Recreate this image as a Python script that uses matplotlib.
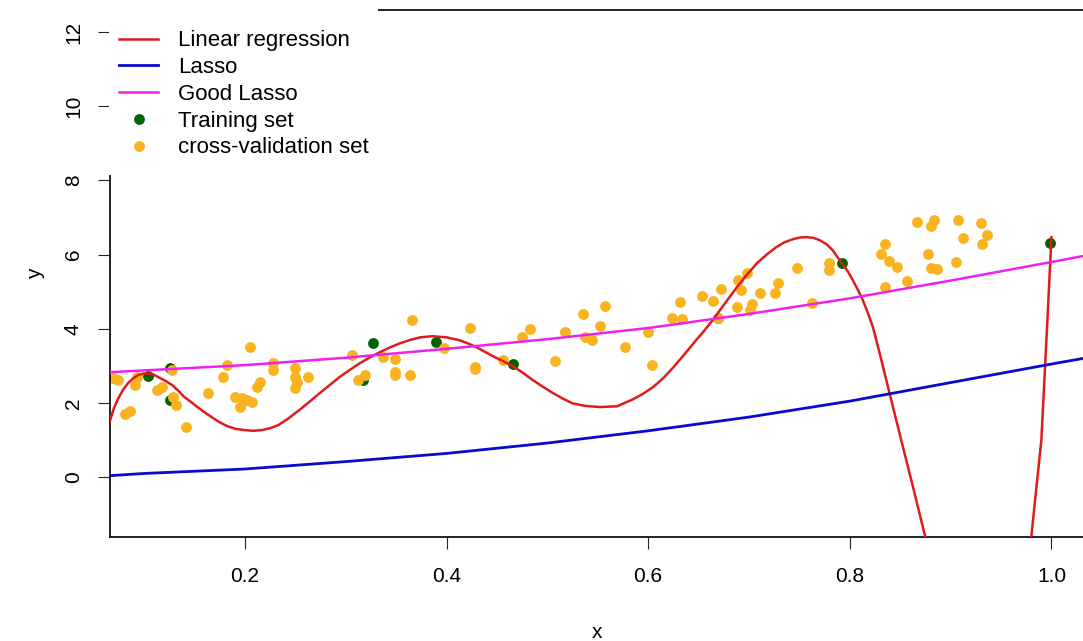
import matplotlib
matplotlib.use("Agg")
import matplotlib.pyplot as plt
from matplotlib.lines import Line2D
from matplotlib.patches import Rectangle

plt.rcParams["font.family"] = ["Liberation Sans", "DejaVu Sans"]

# training set (dark green)
train_x = [0.104, 0.126, 0.126, 0.317, 0.327, 0.390, 0.466, 0.669, 0.792, 0.999]
train_y = [2.72, 2.94, 2.08, 2.61, 3.61, 3.64, 3.05, 4.29, 5.77, 6.31]

# cross-validation set (orange)
cv_x = [0.069, 0.074, 0.081, 0.086, 0.091, 0.093, 0.113, 0.118, 0.128, 0.129,
        0.132, 0.142, 0.163, 0.178, 0.182, 0.205, 0.190, 0.197, 0.202, 0.207,
        0.195, 0.212, 0.215, 0.228, 0.228, 0.250, 0.250, 0.252, 0.250, 0.263,
        0.306, 0.312, 0.319, 0.337, 0.349, 0.349, 0.349, 0.364, 0.366, 0.398,
        0.423, 0.428, 0.428, 0.456, 0.475, 0.483, 0.508, 0.518, 0.535, 0.557,
        0.552, 0.537, 0.544, 0.577, 0.600, 0.604, 0.624, 0.634, 0.632, 0.653,
        0.664, 0.672, 0.669, 0.689, 0.698, 0.692, 0.688, 0.703, 0.701, 0.711,
        0.729, 0.726, 0.748, 0.763, 0.779, 0.779, 0.835, 0.831, 0.839, 0.847,
        0.857, 0.835, 0.867, 0.884, 0.881, 0.907, 0.930, 0.912, 0.936, 0.931,
        0.878, 0.881, 0.886, 0.905]
cv_y = [2.67, 2.61, 1.70, 1.78, 2.48, 2.70, 2.35, 2.43, 2.88, 2.16,
        1.94, 1.35, 2.26, 2.70, 3.02, 3.50, 2.16, 2.13, 2.08, 2.02,
        1.89, 2.43, 2.56, 3.07, 2.88, 2.94, 2.70, 2.56, 2.40, 2.70,
        3.29, 2.61, 2.75, 3.23, 3.18, 2.83, 2.75, 2.75, 4.23, 3.48,
        4.02, 2.96, 2.91, 3.15, 3.77, 3.99, 3.13, 3.91, 4.39, 4.61,
        4.07, 3.77, 3.69, 3.50, 3.91, 3.02, 4.29, 4.26, 4.72, 4.88,
        4.74, 5.07, 4.29, 5.31, 5.50, 5.04, 4.58, 4.66, 4.50, 4.96,
        5.23, 4.96, 5.63, 4.69, 5.77, 5.58, 6.28, 6.01, 5.82, 5.66,
        5.28, 5.12, 6.87, 6.93, 6.77, 6.93, 6.85, 6.44, 6.52, 6.28,
        6.01, 5.63, 5.61, 5.80]

# linear regression (high degree polynomial fit)
lr_x = [0.066, 0.070, 0.074, 0.079, 0.084, 0.089, 0.094, 0.099, 0.104, 0.109,
        0.114, 0.121, 0.128, 0.134, 0.140, 0.147, 0.153, 0.160, 0.167, 0.175,
        0.183, 0.191, 0.200, 0.208, 0.217, 0.225, 0.233, 0.243, 0.254, 0.264,
        0.274, 0.284, 0.294, 0.304, 0.314, 0.324, 0.334, 0.344, 0.354, 0.364,
        0.374, 0.386, 0.400, 0.413, 0.421, 0.430, 0.438, 0.446, 0.456, 0.466,
        0.476, 0.486, 0.496, 0.506, 0.516, 0.525, 0.538, 0.552, 0.569, 0.585,
        0.595, 0.605, 0.615, 0.625, 0.635, 0.645, 0.655, 0.664, 0.676, 0.688,
        0.698, 0.708, 0.718, 0.727, 0.735, 0.743, 0.750, 0.757, 0.764, 0.770,
        0.777, 0.783, 0.792, 0.798, 0.803, 0.808, 0.813, 0.818, 0.823, 0.830,
        0.840, 0.851, 0.863, 0.875, 0.900, 0.930, 0.960, 0.975, 0.980, 0.985,
        0.990, 0.996, 1.000]
lr_y = [1.50, 1.85, 2.10, 2.35, 2.53, 2.66, 2.75, 2.79, 2.80, 2.77,
        2.70, 2.60, 2.48, 2.33, 2.16, 2.02, 1.89, 1.75, 1.62, 1.48,
        1.37, 1.30, 1.27, 1.25, 1.27, 1.32, 1.40, 1.58, 1.81, 2.03,
        2.26, 2.48, 2.70, 2.89, 3.07, 3.23, 3.37, 3.50, 3.61, 3.70,
        3.77, 3.80, 3.77, 3.69, 3.61, 3.50, 3.38, 3.26, 3.13, 2.99,
        2.81, 2.61, 2.43, 2.26, 2.11, 1.99, 1.92, 1.89, 1.91, 2.10,
        2.25, 2.43, 2.67, 2.96, 3.28, 3.61, 3.93, 4.23, 4.68, 5.12,
        5.46, 5.77, 6.01, 6.20, 6.33, 6.41, 6.46, 6.47, 6.45, 6.39,
        6.28, 6.12, 5.77, 5.55, 5.31, 5.05, 4.77, 4.42, 4.04, 3.30,
        2.20, 1.00, -0.30, -1.62, -6.0, -9.0, -8.0, -4.0, -1.62, -0.30,
        1.00, 4.23, 6.47]

# lasso
lasso_x = [0.066, 0.1, 0.2, 0.3, 0.4, 0.5, 0.6, 0.7, 0.8, 0.9, 1.0, 1.031]
lasso_y = [0.04, 0.10, 0.22, 0.42, 0.64, 0.92, 1.25, 1.62, 2.05, 2.55, 3.05, 3.20]

# good lasso
good_x = [0.066, 0.2, 0.3, 0.4, 0.5, 0.6, 0.7, 0.8, 0.9, 1.0, 1.031]
good_y = [2.83, 3.02, 3.22, 3.46, 3.72, 4.02, 4.40, 4.82, 5.30, 5.80, 5.96]

C_RED = "#DD1C1C"
C_BLUE = "#0A0ACD"
C_MAG = "#F020F0"
C_GREEN = "#006400"
C_ORANGE = "#F8B31E"

fig = plt.figure(figsize=(10.83, 6.41), dpi=100)
ax = fig.add_axes([0.102, 0.162, 0.898, 0.822])

ax.plot(train_x, train_y, "o", color=C_GREEN, ms=7.8, mew=0, zorder=2)
ax.plot(cv_x, cv_y, "o", color=C_ORANGE, ms=7.8, mew=0, zorder=2)
ax.plot(lr_x, lr_y, color=C_RED, lw=1.8, zorder=3)
ax.plot(lasso_x, lasso_y, color=C_BLUE, lw=2.0, zorder=3)
ax.plot(good_x, good_y, color=C_MAG, lw=1.8, zorder=3)

ax.set_xlim(0.0667, 1.0313)
ax.set_ylim(-1.617, 12.587)
ax.set_xticks([0.2, 0.4, 0.6, 0.8, 1.0])
ax.set_xticklabels(["0.2", "0.4", "0.6", "0.8", "1.0"])
ax.set_yticks([0, 2, 4, 6, 8, 10, 12])
ax.set_yticklabels(["0", "2", "4", "6", "8", "10", "12"], rotation=90, va="center")
ax.tick_params(axis="both", length=8.8, width=0.8, labelsize=15, color="#222222")
ax.tick_params(axis="x", pad=13)
ax.tick_params(axis="y", pad=11)
ax.spines["right"].set_visible(False)
for s in ["left", "bottom", "top"]:
    ax.spines[s].set_linewidth(1.3)
    ax.spines[s].set_color("#111111")

ax.set_xlabel("x", fontsize=15, labelpad=26)
ax.set_ylabel("y", fontsize=15, labelpad=14)

# white legend box covering the corner of the frame
ax.add_patch(Rectangle((-0.002, 0.687), 0.277, 0.33, transform=ax.transAxes,
                       facecolor="white", edgecolor="none", clip_on=False, zorder=4))

handles = [
    Line2D([], [], color=C_RED, lw=1.8),
    Line2D([], [], color=C_BLUE, lw=2.0),
    Line2D([], [], color=C_MAG, lw=1.8),
    Line2D([], [], color=C_GREEN, marker="o", ls="none", ms=7.8, mew=0),
    Line2D([], [], color=C_ORANGE, marker="o", ls="none", ms=7.8, mew=0),
]
labels = ["Linear regression", "Lasso", "Good Lasso", "Training set", "cross-validation set"]
leg = ax.legend(handles, labels, loc="upper left", bbox_to_anchor=(0.009, 0.962),
                frameon=False, fontsize=16, borderpad=0, borderaxespad=0,
                handlelength=1.75, handletextpad=0.9, labelspacing=0.26)
leg.set_zorder(5)

fig.savefig("out.png", dpi=100, facecolor="white")
